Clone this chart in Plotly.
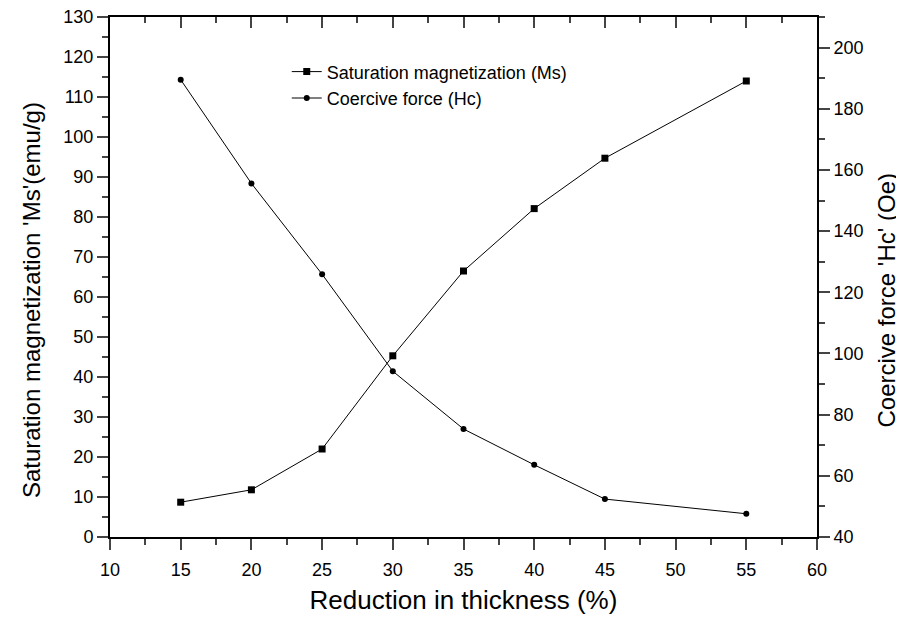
import plotly.graph_objects as go

reduction = [15, 20, 25, 30, 35, 40, 45, 55]
ms_values = [8.7, 11.8, 22.0, 45.3, 66.5, 82.1, 94.7, 114.0]
hc_values = [189.5, 155.6, 125.9, 94.2, 75.3, 63.6, 52.4, 47.6]

x_title = "Reduction in thickness (%)"
y_left_title = "Saturation magnetization 'Ms'(emu/g)"
y_right_title = "Coercive force 'Hc' (Oe)"

font_family = "Liberation Sans, Arial, sans-serif"

fig = go.Figure()
fig.add_trace(go.Scatter(
    x=reduction, y=ms_values, mode="lines+markers",
    name="Saturation magnetization (Ms)",
    line=dict(color="black", width=1),
    marker=dict(symbol="square", size=7, color="black"),
    yaxis="y"))
fig.add_trace(go.Scatter(
    x=reduction, y=hc_values, mode="lines+markers",
    name="Coercive force (Hc)",
    line=dict(color="black", width=1),
    marker=dict(symbol="circle", size=6, color="black"),
    yaxis="y2"))

tickfont = dict(family=font_family, size=18, color="black")

fig.update_layout(
    width=896, height=611,
    margin=dict(l=102, r=87, t=9, b=82),
    paper_bgcolor="white", plot_bgcolor="white",
    font=dict(family=font_family, color="black"),
    xaxis=dict(range=[10, 60], dtick=5, tick0=10, ticks="outside", ticklen=11, tickwidth=2,
               showline=True, linecolor="black", linewidth=2, showgrid=False, zeroline=False,
               automargin=False, ticklabelstandoff=4, ticklabeloverflow="allow",
               tickfont=tickfont,
               title=dict(text=x_title, font=dict(family=font_family, size=26, color="black"), standoff=12),
               minor=dict(ticks="outside", dtick=2.5, tick0=10, ticklen=6, tickwidth=2, showgrid=False)),
    xaxis3=dict(range=[10, 60], dtick=5, tick0=10, ticks="inside", ticklen=11, tickwidth=2,
                overlaying="x", side="top", anchor="y", showticklabels=False, automargin=False,
                showline=True, linecolor="black", linewidth=2, showgrid=False, zeroline=False,
                minor=dict(ticks="inside", dtick=2.5, tick0=10, ticklen=6, tickwidth=2, showgrid=False)),
    yaxis=dict(range=[0, 130], dtick=10, ticks="outside", ticklen=11, tickwidth=2,
               showline=True, linecolor="black", linewidth=2, showgrid=False, zeroline=False,
               automargin=False, ticklabeloverflow="allow", tickfont=tickfont,
               minor=dict(ticks="outside", dtick=5, ticklen=6, tickwidth=2, showgrid=False)),
    yaxis2=dict(range=[40, 210], dtick=20, tick0=40, ticks="outside", ticklen=11, tickwidth=2,
                overlaying="y", side="right", anchor="x", automargin=False,
                ticklabeloverflow="allow",
                showline=True, linecolor="black", linewidth=2, showgrid=False, zeroline=False,
                tickfont=tickfont,
                minor=dict(ticks="outside", dtick=10, ticklen=6, tickwidth=2, showgrid=False)),
    legend=dict(x=0.25, y=0.93, xanchor="left", yanchor="top", bgcolor="rgba(0,0,0,0)",
                font=dict(family=font_family, size=18, color="black"), tracegroupgap=0),
    showlegend=True,
    annotations=[
        dict(text=y_left_title, xref="paper", yref="paper", x=-0.11, y=0.456,
             xanchor="center", yanchor="middle", textangle=-90, showarrow=False,
             font=dict(family=font_family, size=24, color="black")),
        dict(text=y_right_title, xref="paper", yref="paper", x=1.0985, y=0.456,
             xanchor="center", yanchor="middle", textangle=-90, showarrow=False,
             font=dict(family=font_family, size=24, color="black")),
    ],
)
# invisible trace to activate top mirror axis
fig.add_trace(go.Scatter(x=[10], y=[0], xaxis="x3", yaxis="y", mode="markers",
                         marker=dict(opacity=0), showlegend=False, hoverinfo="skip"))

fig.write_html("out.html")
